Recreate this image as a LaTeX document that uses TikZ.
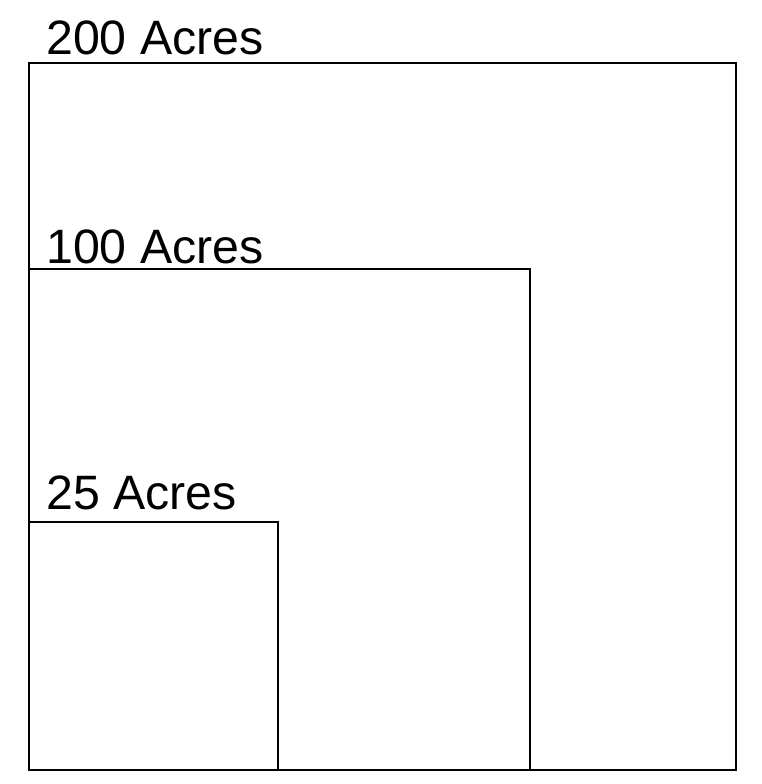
\documentclass[tikz,border=0pt]{standalone}
\usepackage{fontspec}
\setmainfont{Liberation Sans}
\usepackage{tikz}

\begin{document}
\begin{tikzpicture}[x=0.75pt,y=-0.75pt,line width=1.9pt,
    plot/.style={draw=black},
    acres/.style={anchor=base west,inner sep=0pt,font=\fontsize{36.2}{43}\selectfont}]

\useasboundingbox (0,0) rectangle (761,784);

% 200 acres
\draw[plot] (29,63) rectangle (736,770);
\node[acres] (big) at (45,55) {200 Acres};

% 100 acres
\draw[plot] (29,269) rectangle (530,770);
\node[acres] (mid) at (45,263) {100 Acres};

% 25 acres
\draw[plot] (29,522) rectangle (278,770);
\node[acres] (small) at (45,509) {25 Acres};

\end{tikzpicture}
\end{document}
